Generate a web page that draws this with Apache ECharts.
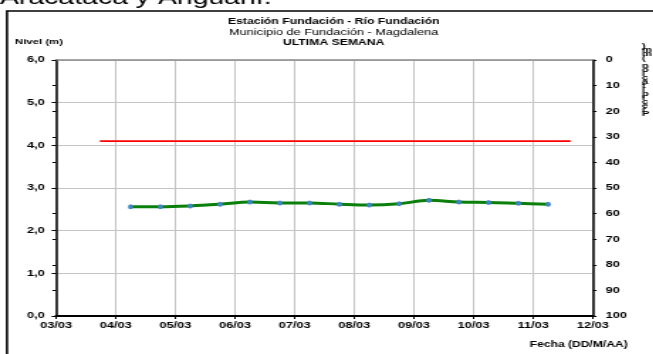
<!DOCTYPE html>
<html>
<head>
<meta charset="utf-8">
<script src="https://cdn.jsdelivr.net/npm/echarts@6/dist/echarts.min.js"></script>
<style>
html,body{margin:0;padding:0;background:#fff;overflow:hidden;width:653px;height:354px;}
#c{width:460px;height:354px;transform:scaleX(1.42);transform-origin:0 0;}
</style>
</head>
<body>
<div id="c"></div>
<script>
// ---- data ----
var xTickLabels = ['03/03','04/03','05/03','06/03','07/03','08/03','09/03','10/03','11/03','12/03'];
var obsTimes = ['04/03 06:00','04/03 18:00','05/03 06:00','05/03 18:00','06/03 06:00','06/03 18:00',
                '07/03 06:00','07/03 18:00','08/03 06:00','08/03 18:00','09/03 06:00','09/03 18:00',
                '10/03 06:00','10/03 18:00','11/03 06:00'];
var nivelValues = [2.56, 2.56, 2.58, 2.62, 2.67, 2.65, 2.65, 2.62, 2.60, 2.63, 2.71, 2.67, 2.66, 2.64, 2.62];
var alertTimes = ['03/03 17:40','11/03 15:00'];
var alertValues = [4.1, 4.1];
var yLeftTicks = [0,1,2,3,4,5,6];
var yRightTicks = [0,10,20,30,40,50,60,70,80,90,100];

// convert "DD/MM hh:mm" to days after 03/03 00:00
function toDays(s){
  var p = s.split(' '), d = p[0].split('/'), t = p[1].split(':');
  return (parseInt(d[0],10) - 3) + (parseInt(t[0],10) + parseInt(t[1],10)/60)/24;
}
var nivelData = obsTimes.map(function(t,i){ return [toDays(t), nivelValues[i]]; });
var alertData = alertTimes.map(function(t,i){ return [toDays(t), alertValues[i]]; });

var F = 'Arial, "Liberation Sans", sans-serif';
var chart = echarts.init(document.getElementById('c'), null, {renderer:'canvas'});
var precipText = 'Precipitación (mm)'.split('').reverse().join('\n');

chart.setOption({
  animation:false,
  backgroundColor:'#ffffff',
  grid:{left:39.4, right:42.4, top:60, bottom:38, containLabel:false},
  xAxis:[{
    type:'value', min:0, max:xTickLabels.length-1, interval:1, position:'bottom',
    axisLine:{show:true, onZero:false, lineStyle:{color:'#000', width:2}},
    axisTick:{show:true, length:3, lineStyle:{color:'#000', width:1}},
    axisLabel:{margin:5, fontFamily:F, fontWeight:'bold', fontSize:9, color:'#000',
      formatter:function(v){ return xTickLabels[Math.round(v)] || ''; }},
    splitLine:{show:true, lineStyle:{color:'#c4c4c4', width:1}}
  },{
    type:'value', min:0, max:xTickLabels.length-1, interval:1, position:'top',
    axisLine:{show:true, onZero:false, lineStyle:{color:'#8a8a8a', width:1.5}},
    axisTick:{show:false}, axisLabel:{show:false}, splitLine:{show:false}
  }],
  yAxis:[{
    type:'value', min:yLeftTicks[0], max:yLeftTicks[yLeftTicks.length-1], interval:1, position:'left',
    axisLine:{show:true, onZero:false, lineStyle:{color:'#000', width:1.5}},
    axisTick:{show:true, length:3, lineStyle:{color:'#000', width:1}},
    axisLabel:{margin:8, fontFamily:F, fontWeight:'bold', fontSize:9, color:'#000',
      formatter:function(v){ return v.toFixed(1).replace('.',','); }},
    splitLine:{show:true, lineStyle:{color:'#c4c4c4', width:1}}
  },{
    type:'value', min:yRightTicks[0], max:yRightTicks[yRightTicks.length-1], interval:10, position:'right', inverse:true,
    axisLine:{show:true, onZero:false, lineStyle:{color:'#000', width:1.5}},
    axisTick:{show:true, length:2.5, lineStyle:{color:'#000', width:1}},
    axisLabel:{margin:9, fontFamily:F, fontWeight:'bold', fontSize:9, color:'#000'},
    splitLine:{show:false}
  },{
    type:'value', min:yRightTicks[0], max:yRightTicks[yRightTicks.length-1], interval:10, position:'right', inverse:true,
    axisLine:{show:false},
    axisTick:{show:true, inside:true, length:2.5, lineStyle:{color:'#000', width:1}},
    axisLabel:{show:false}, splitLine:{show:false}
  }],
  series:[{
    name:'Umbral', type:'line', xAxisIndex:0, yAxisIndex:0, data:alertData,
    showSymbol:false, symbol:'none', lineStyle:{color:'#ff0000', width:1.7}, z:3
  },{
    name:'Nivel', type:'line', xAxisIndex:0, yAxisIndex:0, data:nivelData,
    smooth:0.35, symbol:'circle', symbolSize:[3.6,5], showSymbol:true,
    lineStyle:{color:'#0a7f0a', width:3},
    itemStyle:{color:'#3f86c8', borderColor:'#4a8cc8', borderWidth:0}, z:4
  }],
  graphic:[
    {type:'rect', shape:{x:4.9, y:11, width:1000, height:1000}, style:{fill:null, stroke:'#000', lineWidth:1.6}},
    {type:'text', x:0, y:-2, style:{text:'Aracataca y Anguaní.', fontFamily:F, fontSize:20, fill:'#000', textAlign:'left', textVerticalAlign:'middle'}},
    {type:'text', x:235, y:22, style:{text:'Estación Fundación - Río Fundación', fontFamily:F, fontWeight:'bold', fontSize:8.6, fill:'#000', textAlign:'center', textVerticalAlign:'middle'}},
    {type:'text', x:235, y:33, style:{text:'Municipio de Fundación - Magdalena', fontFamily:F, fontSize:9, fill:'#000', textAlign:'center', textVerticalAlign:'middle'}},
    {type:'text', x:235, y:43, style:{text:'ULTIMA SEMANA', fontFamily:F, fontWeight:'bold', fontSize:8.6, fill:'#000', textAlign:'center', textVerticalAlign:'middle'}},
    {type:'text', x:10.6, y:42, style:{text:'Nivel (m)', fontFamily:F, fontWeight:'bold', fontSize:8, fill:'#000', textAlign:'left', textVerticalAlign:'middle'}},
    {type:'text', x:442, y:345, style:{text:'Fecha (DD/M/AA)', fontFamily:F, fontWeight:'bold', fontSize:8.5, fill:'#000', textAlign:'right', textVerticalAlign:'middle'}},
    {type:'text', x:452, y:44, style:{text:precipText, fontFamily:F, fontWeight:'bold', fontSize:8, lineHeight:4, fill:'#000', textAlign:'left', textVerticalAlign:'top'}}
  ]
});
</script>
</body>
</html>
